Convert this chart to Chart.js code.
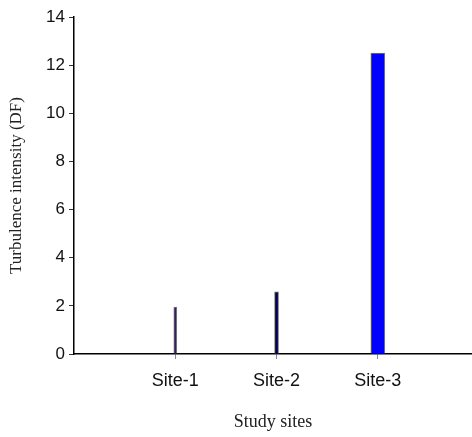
<!DOCTYPE html>
<html>
<head>
<meta charset="utf-8">
<script src="https://cdn.jsdelivr.net/npm/chart.js@4.4.1/dist/chart.umd.min.js"></script>
<style>
  html, body { margin: 0; padding: 0; background: #fff; }
  #wrap { width: 472px; height: 437px; }
</style>
</head>
<body>
<div id="wrap"><canvas id="grafico"></canvas></div>
<script>
// Datos
const sitios = ['Site-1', 'Site-2', 'Site-3'];
const posiciones = [1, 2, 3];
const turbulencia = [1.95, 2.58, 12.5];
const ticksY = [0, 2, 4, 6, 8, 10, 12, 14];

const colores = ['#3a1870', '#00005a', '#0000ff'];
const anchos = [3, 4, 14];

// Un dataset por sitio para poder dar un ancho distinto a cada barra
const datasets = sitios.map((s, i) => ({
  label: s,
  data: [{ x: posiciones[i], y: turbulencia[i] }],
  backgroundColor: colores[i],
  borderColor: '#7a7a7a',
  borderWidth: { top: 1, left: 1, right: 1, bottom: 0 },
  barThickness: anchos[i],
  grouped: false,
}));

const ctx = document.getElementById('grafico').getContext('2d');
new Chart(ctx, {
  type: 'bar',
  data: { datasets },
  options: {
    responsive: true,
    maintainAspectRatio: false,
    animation: false,
    layout: { padding: { top: 17, right: 0, left: 0, bottom: 0 } },
    plugins: { legend: { display: false }, tooltip: { enabled: false } },
    scales: {
      x: {
        type: 'linear',
        offset: false,
        min: 0,
        max: 3.93,
        afterBuildTicks: (scale) => {
          scale.ticks = posiciones.map((v) => ({ value: v }));
        },
        afterFit: (scale) => { scale.height = 83; },
        ticks: {
          callback: (v) => sitios[posiciones.indexOf(v)] || '',
          color: '#111',
          font: { family: 'Liberation Sans', size: 18 },
          padding: 11,
          maxRotation: 0,
        },
        grid: { offset: false, drawOnChartArea: false, drawTicks: true, tickLength: 5, color: '#888' },
        border: { color: '#000', width: 1.5 },
        title: {
          display: true,
          text: 'Study sites',
          color: '#222',
          font: { family: 'Liberation Serif', size: 18 },
          padding: { top: 23 },
        },
      },
      y: {
        min: 0,
        max: 14,
        afterBuildTicks: (scale) => {
          scale.ticks = ticksY.map((v) => ({ value: v }));
        },
        afterFit: (scale) => { scale.width = 74; },
        ticks: {
          color: '#111',
          font: { family: 'Liberation Sans', size: 17 },
          padding: 4,
        },
        grid: { drawOnChartArea: false, drawTicks: true, tickLength: 5, color: '#333' },
        border: { color: '#000', width: 1.5 },
        title: {
          display: true,
          text: 'Turbulence intensity (DF)',
          color: '#222',
          font: { family: 'Liberation Serif', size: 17 },
          padding: { top: 6, bottom: 6 },
        },
      },
    },
  },
});
</script>
</body>
</html>
